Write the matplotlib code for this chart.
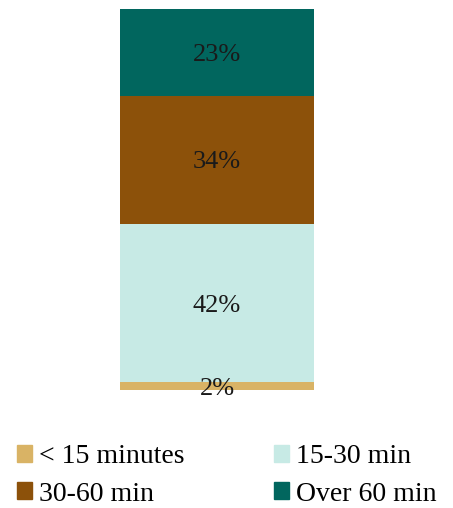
import matplotlib.pyplot as plt
from matplotlib.patches import Patch

categories = ["< 15 minutes", "15-30 min", "30-60 min", "Over 60 min"]
shares = [2, 42, 34, 23]
colors = ["#D9B365", "#C7EAE5", "#8C510A", "#01665E"]

plt.rcParams["font.family"] = ["Liberation Serif", "DejaVu Serif"]

fig = plt.figure(figsize=(4.53, 5.08), dpi=100)
ax = fig.add_axes([120 / 453, 118 / 508, 194 / 453, 381 / 508])

bottom = 0
for cat, val, col in zip(categories, shares, colors):
    ax.bar(0, val, width=1, bottom=bottom, color=col, label=cat)
    ax.text(0, bottom + val / 2, "{}%".format(val), ha="center",
            va="center_baseline", fontsize=19, color="#1a1a1a")
    bottom += val

ax.set_xlim(-0.5, 0.5)
ax.set_ylim(0, sum(shares))
ax.axis("off")

#  Легенда в два столбца: порядок по столбцам
order = [0, 2, 1, 3]
handles = [Patch(color=colors[i]) for i in order]
labels = [categories[i] for i in order]
fig.legend(handles, labels, ncol=2, loc="lower left",
           bbox_to_anchor=(0.0, -0.03), frameon=False, fontsize=20,
           handlelength=0.55, handleheight=0.55, handletextpad=0.25,
           columnspacing=3.22, labelspacing=0.45, borderaxespad=0.2)

fig.savefig("out.png", dpi=100)
